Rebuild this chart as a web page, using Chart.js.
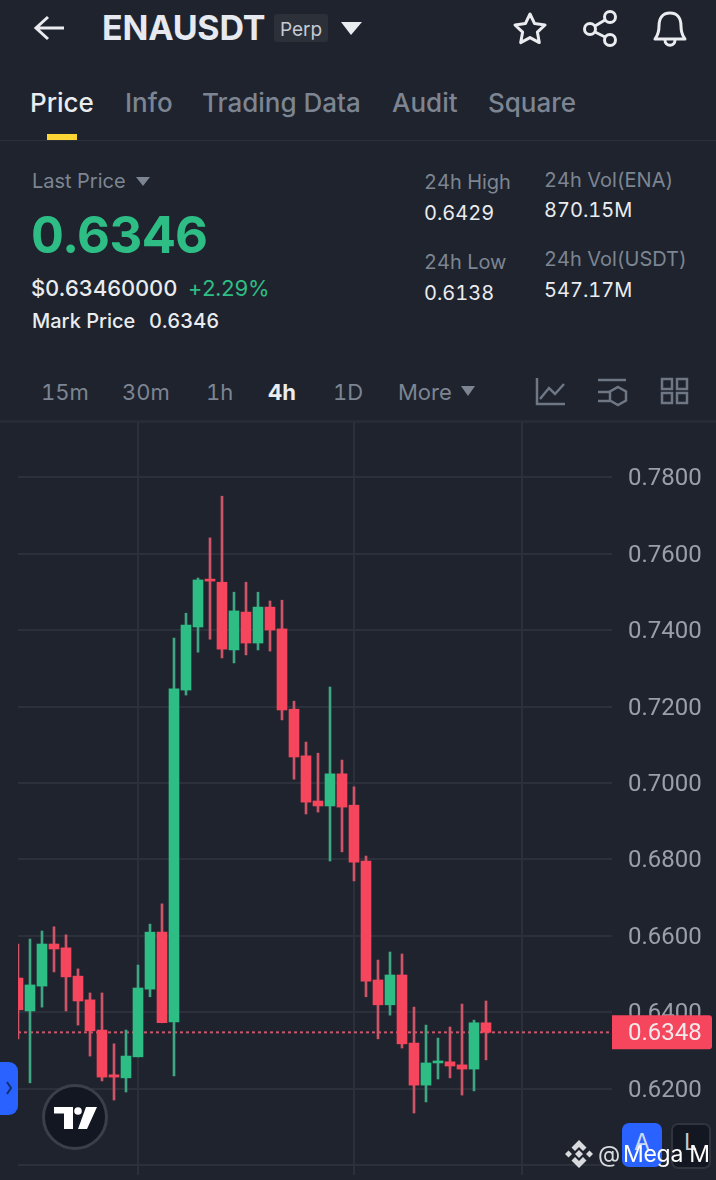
<!DOCTYPE html>
<html>
<head>
<meta charset="utf-8">
<title>ENAUSDT</title>
<script src="https://cdn.jsdelivr.net/npm/chart.js@4"></script>
<style>
  html, body { margin: 0; padding: 0; background: #1e232e; }
  body { width: 716px; height: 1180px; position: relative; overflow: hidden; font-family: Inter, "Noto Sans", sans-serif; font-feature-settings: "tnum"; color: #eaecef; }
  .t { position: absolute; transform: translateY(-50%); white-space: nowrap; line-height: 1; }
  .g { color: #7d8592; }
  .w { color: #eaecef; }
  .up { color: #2ebd85; }
  .box { position: absolute; }
  svg { position: absolute; overflow: visible; }
  #chart { position: absolute; left: 0; top: 422px; }
</style>
</head>
<body>
<!-- top bar -->
<svg style="left:0;top:0" width="716" height="60" fill="none" stroke="#eaecef" stroke-width="3">
  <path d="M64 28H37M48 17L36 28L48 39"/>
  <path d="M351 35L341 22H362Z" fill="#eaecef" stroke="none"/>
  <path d="M530 14l4.6 9.6 10.4 1.4-7.6 7.2 1.9 10.4-9.3-5-9.3 5 1.9-10.4-7.6-7.2 10.4-1.4z" stroke-linejoin="round"/>
  <circle cx="610" cy="17" r="5.5"/><circle cx="610" cy="40" r="5.5"/><circle cx="590" cy="29" r="5.5"/>
  <path d="M595 26L605 20M595 32L605 37"/>
  <path d="M670 13c-8 0-11 6-11 13 0 8-2 10-4 13h30c-2-3-4-5-4-13 0-7-3-13-11-13z" stroke-linejoin="round"/>
  <path d="M665 40c0 7 10 7 10 0"/>
</svg>
<div class="t" style="left:102px;top:28px;font-size:34px;font-weight:700;letter-spacing:-0.2px;color:#e6e9ef">ENAUSDT</div>
<div class="box" style="left:274px;top:14px;width:54px;height:28px;background:#2b3039;border-radius:3px"></div>
<div class="t" style="left:280px;top:29px;font-size:19px;color:#c6cad1">Perp</div>

<!-- tabs -->
<div class="t" style="left:30px;top:103px;font-size:26px;font-weight:500">Price</div>
<div class="t g" style="left:125px;top:103px;font-size:26px;font-weight:500">Info</div>
<div class="t g" style="left:202px;top:103px;font-size:26px;font-weight:500">Trading Data</div>
<div class="t g" style="left:392px;top:103px;font-size:26px;font-weight:500">Audit</div>
<div class="t g" style="left:488px;top:103px;font-size:26px;font-weight:500">Square</div>
<div class="box" style="left:47px;top:134px;width:30px;height:6px;background:#fcd535"></div>
<div class="box" style="left:0;top:140px;width:716px;height:1px;background:#2b3039"></div>

<!-- price block -->
<div class="t g" style="left:32px;top:181px;font-size:20px">Last Price</div>
<svg style="left:0;top:0" width="1" height="1"><path d="M136 177H150L143 186Z" fill="#7d8592"/></svg>
<div class="t up" style="left:31px;top:234px;font-size:51px;font-weight:700;letter-spacing:-0.3px">0.6346</div>
<div class="t w" style="left:31px;top:288px;font-size:22px;font-weight:500;letter-spacing:-0.2px">$0.63460000</div>
<div class="t up" style="left:188px;top:288px;font-size:22px;letter-spacing:-0.6px">+2.29%</div>
<div class="t w" style="left:32px;top:321px;font-size:20px;font-weight:500">Mark Price</div>
<div class="t w" style="left:149px;top:321px;font-size:20px;font-weight:500">0.6346</div>

<div class="t g" style="left:424px;top:182px;font-size:20px">24h High</div>
<div class="t w" style="left:424px;top:213px;font-size:20px">0.6429</div>
<div class="t g" style="left:424px;top:262px;font-size:20px">24h Low</div>
<div class="t w" style="left:424px;top:293px;font-size:20px">0.6138</div>
<div class="t g" style="left:544px;top:180px;font-size:20px">24h Vol(ENA)</div>
<div class="t w" style="left:544px;top:210px;font-size:20px">870.15M</div>
<div class="t g" style="left:544px;top:259px;font-size:20px">24h Vol(USDT)</div>
<div class="t w" style="left:544px;top:290px;font-size:20px">547.17M</div>

<!-- interval row -->
<div class="t g" style="left:41px;top:392px;font-size:22px">15m</div>
<div class="t g" style="left:122px;top:392px;font-size:22px">30m</div>
<div class="t g" style="left:206px;top:392px;font-size:22px">1h</div>
<div class="t w" style="left:268px;top:392px;font-size:22px;font-weight:700">4h</div>
<div class="t g" style="left:333px;top:392px;font-size:22px">1D</div>
<div class="t g" style="left:398px;top:392px;font-size:22px">More</div>
<svg style="left:0;top:0" width="716" height="420" fill="none" stroke="#6f7785" stroke-width="2.5">
  <path d="M461 386H475L468 396Z" fill="#7d8592" stroke="none"/>
  <path d="M537 378V404H565M540 399L549 388L555 394L564 384"/>
  <path d="M598 380H626M598 392H610M598 401H610"/>
  <path d="M618 387l8 4.5v9l-8 4.500-8-4.500v-9z"/>
  <rect x="662" y="379" width="10" height="10"/><rect x="677" y="379" width="10" height="10"/>
  <rect x="662" y="393" width="10" height="10"/><rect x="677" y="393" width="10" height="10"/>
</svg>
<div class="box" style="left:0;top:420px;width:716px;height:3px;background:#262b35"></div>

<canvas id="chart" width="716" height="758"></canvas>

<!-- overlays on the chart -->
<div class="box" style="left:0;top:1062px;width:18px;height:53px;background:#2962ff;border-radius:0 9px 9px 0"></div>
<svg style="left:0;top:0" width="1" height="1" fill="none"><path d="M7 1082L11 1088L7 1094" stroke="#12306f" stroke-width="2"/></svg>
<div class="box" style="left:42px;top:1084px;width:60px;height:60px;border:3px solid #3b3f49;border-radius:50%;background:#131722"></div>
<svg style="left:0;top:0" width="1" height="1" fill="#fff">
  <path d="M54 1107H73V1129H64V1113.500H54Z"/>
  <circle cx="78" cy="1111" r="3.800"/>
  <path d="M86 1107H97L87 1129H78Z"/>
</svg>
<div class="box" style="left:622px;top:1123px;width:40px;height:44px;background:#2962ff;border-radius:7px"></div>
<div class="t" style="left:634px;top:1142px;font-size:23px;color:#cfd8f5">A</div>
<div class="box" style="left:671px;top:1123px;width:36px;height:42px;background:#131722;border:2px solid #30343e;border-radius:7px"></div>
<div class="t" style="left:684px;top:1142px;font-size:23px;color:#c5c8cf">L</div>
<svg style="left:0;top:0" width="1" height="1" fill="#d8dade">
  <path d="M579 1140l7.500 7.500-3.500 3.500-4-4-4 4-3.500-3.500z"/>
  <path d="M579 1168l-7.500-7.500 3.500-3.500 4 4 4-4 3.500 3.500z"/>
  <path d="M565 1154l3.500-3.500 3.500 3.500-3.500 3.500z"/>
  <path d="M593 1154l-3.500-3.500-3.500 3.500 3.500 3.500z"/>
  <path d="M579 1150l4 4-4 4-4-4z"/>
</svg>
<div class="t" style="left:598px;top:1154px;font-size:23px;color:#d8dade">@</div>
<div class="t" style="left:623px;top:1154px;font-size:23px;color:#fff;letter-spacing:-0.3px;font-feature-settings:normal">Mega M</div>

<script>
// candles, oldest first
const opens  = [0.6490, 0.6404, 0.6469, 0.6579, 0.6569, 0.6495, 0.6433, 0.6354, 0.6237, 0.6229,
                0.6284, 0.6461, 0.6610, 0.6375, 0.7243, 0.7408, 0.7533, 0.7525, 0.7348, 0.7447,
                0.7366, 0.7460, 0.7403, 0.7193, 0.7071, 0.6953, 0.6940, 0.7024, 0.6942, 0.6796,
                0.6485, 0.6420, 0.6498, 0.6320, 0.6210, 0.6268, 0.6271, 0.6263, 0.6252, 0.6373];
const highs  = [0.6579, 0.6592, 0.6613, 0.6624, 0.6603, 0.6514, 0.6451, 0.6451, 0.6318, 0.6354,
                0.6524, 0.6631, 0.6684, 0.7379, 0.7444, 0.7536, 0.7641, 0.7750, 0.7499, 0.7525,
                0.7499, 0.7476, 0.7478, 0.7214, 0.7107, 0.7078, 0.7251, 0.7060, 0.6990, 0.6809,
                0.6537, 0.6558, 0.6553, 0.6414, 0.6367, 0.6333, 0.6362, 0.6422, 0.6380, 0.6430];
const lows   = [0.6331, 0.6216, 0.6414, 0.6506, 0.6404, 0.6367, 0.6286, 0.6221, 0.6171, 0.6192,
                0.6284, 0.6441, 0.6373, 0.6234, 0.7230, 0.7342, 0.7376, 0.7327, 0.7314, 0.7335,
                0.7348, 0.7345, 0.7165, 0.7010, 0.6919, 0.6924, 0.6796, 0.6820, 0.6744, 0.6441,
                0.6331, 0.6393, 0.6307, 0.6137, 0.6166, 0.6226, 0.6229, 0.6184, 0.6195, 0.6276];
const closes = [0.6407, 0.6472, 0.6579, 0.6566, 0.6493, 0.6430, 0.6352, 0.6231, 0.6231, 0.6286,
                0.6464, 0.6610, 0.6373, 0.7246, 0.7413, 0.7531, 0.7528, 0.7350, 0.7450, 0.7366,
                0.7460, 0.7400, 0.7191, 0.7068, 0.6950, 0.6940, 0.7024, 0.6937, 0.6793, 0.6482,
                0.6420, 0.6498, 0.6318, 0.6210, 0.6268, 0.6273, 0.6260, 0.6252, 0.6373, 0.6348];

const priceTicks = [0.60, 0.62, 0.64, 0.66, 0.68, 0.70, 0.72, 0.74, 0.76, 0.78];
const timeTicks = [10, 28, 42];
const lastPrice = 0.6348;

const GREEN = '#2ebd85';
const RED = '#f6465d';
const GRID = '#2b303a';

const isUp = closes.map((c, i) => c >= opens[i]);
const colors = isUp.map((up) => (up ? GREEN : RED));
const wickColors = isUp.map((up) => (up ? '#3fa582' : '#cf5468'));

// the red tag on the price axis
const lastPriceTag = {
  id: 'lastPriceTag',
  afterDraw(chart) {
    const { ctx, chartArea, scales } = chart;
    const y = scales.y.getPixelForValue(lastPrice);
    ctx.save();
    ctx.fillStyle = RED;
    ctx.beginPath();
    ctx.roundRect(chartArea.right, y - 17, 100, 34, [0, 3, 3, 0]);
    ctx.fill();
    ctx.fillStyle = '#f3e9ea';
    ctx.font = '24px Roboto';
    ctx.textAlign = 'left';
    ctx.textBaseline = 'middle';
    ctx.fillText(lastPrice.toFixed(4), chartArea.right + 16, y + 2);
    ctx.restore();
  },
};

new Chart(document.getElementById('chart'), {
  data: {
    datasets: [
      {
        type: 'line',
        data: [{ x: 0, y: lastPrice }, { x: 49.5, y: lastPrice }],
        borderColor: '#c9566a',
        borderWidth: 2,
        borderDash: [3, 3],
        pointRadius: 0,
        order: 3,
      },
      {
        type: 'bar',
        data: highs.map((h, i) => ({ x: i, y: [lows[i], h] })),
        backgroundColor: wickColors,
        barThickness: 2,
        grouped: false,
        borderWidth: 0,
        order: 2,
      },
      {
        type: 'bar',
        data: opens.map((o, i) => ({ x: i, y: [o, closes[i]] })),
        backgroundColor: colors,
        barThickness: 10,
        minBarLength: 2,
        grouped: false,
        borderWidth: 0,
        order: 1,
      },
    ],
  },
  options: {
    responsive: false,
    animation: false,
    devicePixelRatio: 1,
    layout: { padding: { left: 18, right: 0, top: 0, bottom: 5 } },
    plugins: { legend: { display: false }, tooltip: { enabled: false } },
    scales: {
      x: {
        type: 'linear',
        min: 0,
        max: 49.5,
        offset: false,
        afterBuildTicks: (scale) => { scale.ticks = timeTicks.map((v) => ({ value: v })); },
        ticks: { display: false },
        grid: { color: GRID, lineWidth: 2, drawTicks: false, offset: false },
        border: { display: false },
      },
      y: {
        position: 'right',
        min: 0.5975,
        max: 0.7944,
        afterBuildTicks: (scale) => { scale.ticks = priceTicks.map((v) => ({ value: v })); },
        afterFit: (scale) => {
          scale.width = 104;
          // no room kept for the half height of the end labels
          scale.paddingTop = 0;
          scale.paddingBottom = 0;
        },
        ticks: {
          color: '#9aa0aa',
          padding: 16,
          labelOffset: 2,
          font: { family: 'Roboto', size: 24 },
          callback: (v) => (v === 0.60 ? '' : v.toFixed(4)),
        },
        grid: { color: GRID, lineWidth: 2, drawTicks: false },
        border: { display: false },
      },
    },
  },
  plugins: [lastPriceTag],
});
</script>
</body>
</html>
